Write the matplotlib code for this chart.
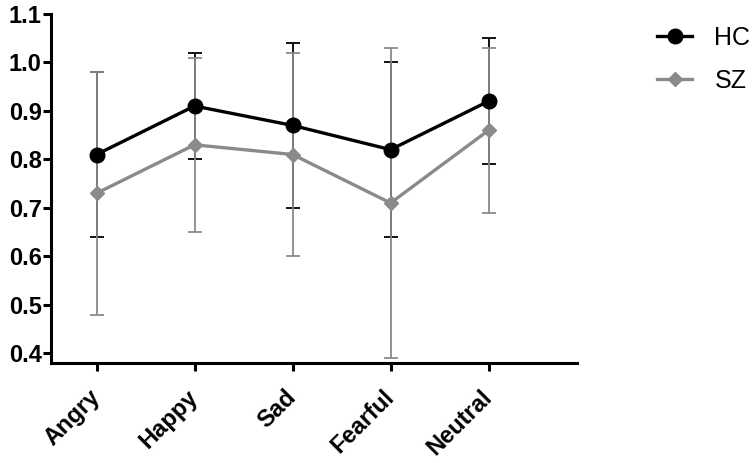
import matplotlib.pyplot as plt
import matplotlib.transforms as mtransforms
import numpy as np

plt.rcParams['font.family'] = ['Liberation Sans', 'DejaVu Sans']

emotions = ['Angry', 'Happy', 'Sad', 'Fearful', 'Neutral']
hc_mean = [0.81, 0.91, 0.87, 0.82, 0.92]
hc_upper = [0.98, 1.02, 1.04, 1.00, 1.05]
hc_lower = [0.64, 0.80, 0.70, 0.64, 0.79]
sz_mean = [0.73, 0.83, 0.81, 0.71, 0.86]
sz_upper = [0.98, 1.01, 1.02, 1.03, 1.03]
sz_lower = [0.48, 0.65, 0.60, 0.39, 0.69]

x = np.arange(len(emotions))
hc_err = [np.subtract(hc_mean, hc_lower), np.subtract(hc_upper, hc_mean)]
sz_err = [np.subtract(sz_mean, sz_lower), np.subtract(sz_upper, sz_mean)]

fig = plt.figure(figsize=(7.56, 4.63), dpi=100)
ax = fig.add_axes([0.068, 0.216, 0.695, 0.754])

ax.errorbar(x, hc_mean, yerr=hc_err, color='black', ecolor='black', elinewidth=1.3,
            capsize=5, capthick=1.3, zorder=2, fmt='none')
ax.errorbar(x, sz_mean, yerr=sz_err, color='#8a8a8a', ecolor='#8a8a8a', elinewidth=1.3,
            capsize=5, capthick=1.3, zorder=3, fmt='none')
ax.plot(x, hc_mean, '-o', color='black', lw=2.4, markersize=10.5, label='HC', zorder=4)
ax.plot(x, sz_mean, '-D', color='#8a8a8a', lw=2.4, markersize=7.5, label='SZ', zorder=5)

ax.set_xlim(-0.46, 4.9)
ax.set_ylim(0.38, 1.1)
ax.set_yticks(np.arange(0.4, 1.11, 0.1))
ax.set_yticklabels(['{:.1f}'.format(v) for v in np.arange(0.4, 1.11, 0.1)])
ax.set_xticks(x)
ax.set_xticklabels(emotions, rotation=45, ha='right', va='center', rotation_mode='anchor')

shift = mtransforms.ScaledTranslation(-4 / 100, 0, fig.dpi_scale_trans)
for lab in ax.get_xticklabels():
    lab.set_transform(lab.get_transform() + shift)

for lab in ax.get_xticklabels() + ax.get_yticklabels():
    lab.set_fontweight('bold')
    lab.set_fontsize(17)

ax.spines['top'].set_visible(False)
ax.spines['right'].set_visible(False)
ax.spines['left'].set_linewidth(2.2)
ax.spines['bottom'].set_linewidth(2.2)
ax.tick_params(axis='both', width=2.2, length=6, direction='out')
ax.tick_params(axis='y', pad=1)
ax.tick_params(axis='x', pad=16)

ax.legend(loc='upper left', bbox_to_anchor=(657 / 756, 1 - 26 / 463),
          bbox_transform=fig.transFigure, frameon=False, fontsize=18,
          handlelength=1.4, handletextpad=0.9, labelspacing=0.75,
          borderpad=0, borderaxespad=0)

fig.savefig('out.png', dpi=100)
